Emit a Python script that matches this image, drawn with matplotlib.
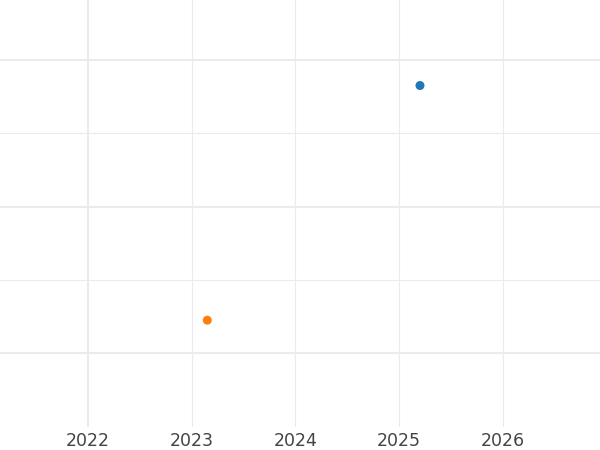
import numpy as np
import matplotlib.pyplot as plt

# point data (x in fractional years, y in grid units)
dates = [2025.2, 2023.15]
values = [3.65, 0.45]
colors = ['#1f77b4', '#ff7f0e']
years = [2022, 2023, 2024, 2025, 2026]
major_y = [0, 2, 4]
minor_y = [1, 3]

fig = plt.figure(figsize=(6, 4.5), dpi=100)
ax = fig.add_axes([0, 0.051, 1, 0.949])

ax.set_xlim(2021.152, 2026.935)
ax.set_ylim(-1.007, 4.816)

grid_col = '#ebebeb'
for y in major_y:
    ax.axhline(y, color=grid_col, lw=1.5, zorder=0)
for y in minor_y:
    ax.axhline(y, color=grid_col, lw=0.8, zorder=0)
for i, yr in enumerate(years):
    ax.axvline(yr, color=grid_col, lw=1.5 if i == 0 else 0.8, zorder=0)

ax.scatter(dates, values, c=colors, s=42, zorder=3, linewidths=0)

ax.set_xticks(years)
ax.set_xticklabels([str(y) for y in years], fontsize=12.5, color='#444444')
ax.tick_params(axis='x', length=0, pad=3.5)
ax.set_yticks([])
for s in ax.spines.values():
    s.set_visible(False)

fig.savefig('out.png', dpi=100)
